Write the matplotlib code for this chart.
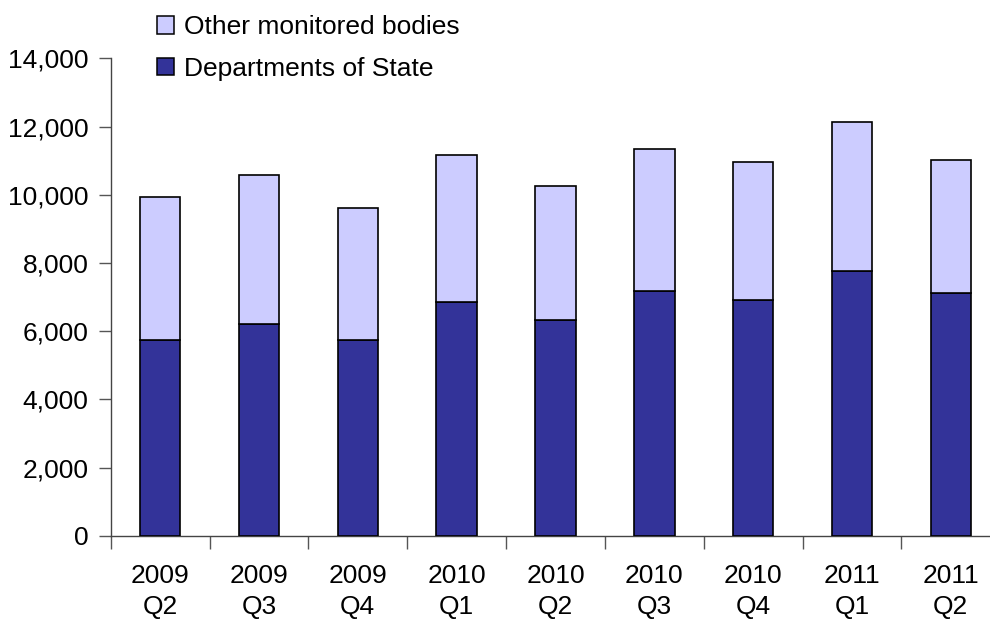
import matplotlib.pyplot as plt
from matplotlib.patches import Patch

plt.rcParams['font.family'] = ['Liberation Sans', 'DejaVu Sans']

quarters = ['2009\nQ2', '2009\nQ3', '2009\nQ4', '2010\nQ1', '2010\nQ2',
            '2010\nQ3', '2010\nQ4', '2011\nQ1', '2011\nQ2']
departments = [5750, 6220, 5750, 6870, 6330, 7180, 6920, 7770, 7130]
other_bodies = [4190, 4360, 3870, 4310, 3930, 4150, 4040, 4360, 3880]

dark = '#333399'
light = '#ccccff'

fig = plt.figure(figsize=(9.9, 6.22), dpi=100)
ax = fig.add_axes([0.1118, 0.1383, 0.8985, 0.768])

x = list(range(len(quarters)))
ax.bar(x, departments, width=0.41, color=dark, edgecolor='black', linewidth=1.2, zorder=3)
ax.bar(x, other_bodies, width=0.41, bottom=departments, color=light,
       edgecolor='black', linewidth=1.2, zorder=3)

ax.set_xlim(-0.5, len(quarters) - 0.5)
ax.set_ylim(0, 14000)
ax.set_yticks(range(0, 14001, 2000))
ax.set_yticklabels([f'{v:,}' for v in range(0, 14001, 2000)])

# boundary ticks between quarters, labels centred under each bar
ax.set_xticks([i - 0.5 for i in range(len(quarters) + 1)])
ax.set_xticklabels([])
ax.set_xticks(x, minor=True)
ax.set_xticklabels(quarters, minor=True, linespacing=1.4)
ax.tick_params(axis='x', which='major', length=9, width=1, color='#555555', direction='out')
ax.tick_params(axis='x', which='minor', length=0, pad=20, labelsize=19)
ax.tick_params(axis='y', length=9, width=1, color='#555555', direction='out', pad=7, labelsize=19)

for s in ['top', 'right']:
    ax.spines[s].set_visible(False)
for s in ['left', 'bottom']:
    ax.spines[s].set_color('#444444')
    ax.spines[s].set_linewidth(1)

handles = [Patch(facecolor=light, edgecolor='black', linewidth=1.1),
           Patch(facecolor=dark, edgecolor='black', linewidth=1.1)]
fig.legend(handles, ['Other monitored bodies', 'Departments of State'],
           loc='upper left', bbox_to_anchor=(0.153, 0.984), frameon=False,
           fontsize=19, handlelength=0.65, handleheight=0.65, handletextpad=0.4,
           labelspacing=0.66, borderpad=0.2, borderaxespad=0)

fig.savefig('out.png', dpi=100)
